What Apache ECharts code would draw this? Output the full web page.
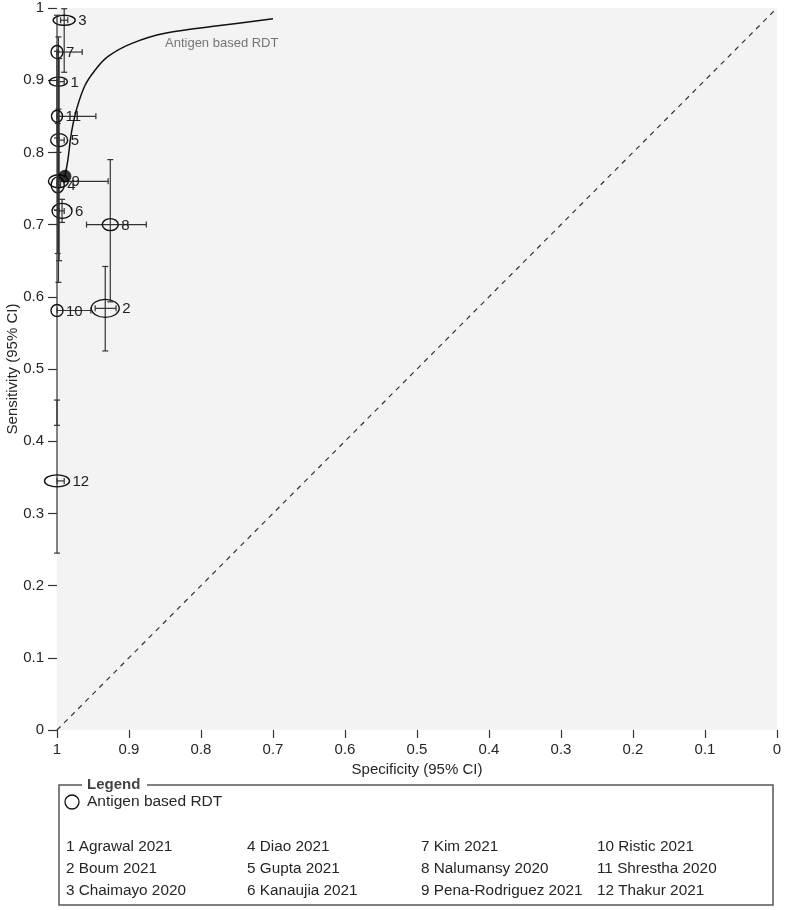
<!DOCTYPE html>
<html>
<head>
<meta charset="utf-8">
<script src="https://cdn.jsdelivr.net/npm/echarts@6/dist/echarts.min.js"></script>
<style>html,body{margin:0;padding:0;background:#fff}#c{width:785px;height:910px}</style>
</head>
<body>
<div id="c"></div>
<script>
// ---- data ----
var studyIds   = [1, 2, 3, 4, 5, 6, 7, 8, 9, 10, 11, 12];
var studyNames = ['Agrawal 2021','Boum 2021','Chaimayo 2020','Diao 2021','Gupta 2021','Kanaujia 2021',
                  'Kim 2021','Nalumansy 2020','Pena-Rodriguez 2021','Ristic 2021','Shrestha 2020','Thakur 2021'];
var sens   = [0.898, 0.584, 0.983, 0.755, 0.817, 0.719, 0.939, 0.700, 0.760, 0.581, 0.850, 0.345];
var sensLo = [0.800, 0.525, 0.911, 0.660, 0.650, 0.703, 0.820, 0.593, 0.620, 0.422, 0.720, 0.245];
var sensHi = [0.960, 0.642, 0.999, 0.840, 0.930, 0.735, 0.990, 0.790, 0.860, 0.720, 0.940, 0.457];
var spec   = [0.998, 0.933, 0.990, 0.999, 0.997, 0.993, 1.000, 0.926, 0.998, 1.000, 1.000, 1.000];
var specLo = [0.990, 0.918, 0.985, 0.995, 0.990, 0.990, 0.965, 0.876, 0.929, 0.953, 0.946, 0.990];
var specHi = [1.000, 0.947, 0.995, 1.000, 1.000, 0.997, 1.000, 0.959, 1.000, 1.000, 1.000, 1.000];
// relative study weights (drive ellipse width / height)
var weightSpec = [18, 28, 22, 13, 17, 20, 12, 16, 20, 12, 11, 25];
var weightSens = [9, 18, 10, 16, 13, 15, 13, 12, 13, 12, 12, 12];
// summary point
var summarySpec = 0.989, summarySens = 0.767;
// SROC curve
var curveSpec = [0.989, 0.985, 0.980, 0.973, 0.961, 0.947, 0.929, 0.896, 0.850, 0.771, 0.700];
var curveSens = [0.767, 0.789, 0.827, 0.859, 0.893, 0.914, 0.933, 0.951, 0.965, 0.976, 0.985];
var curveName = 'Antigen based RDT';
var axisTicks = [0, 0.1, 0.2, 0.3, 0.4, 0.5, 0.6, 0.7, 0.8, 0.9, 1];

// ---- chart ----
var chart = echarts.init(document.getElementById('c'), null, {renderer: 'canvas'});
var FONT = 'Liberation Sans, Arial, sans-serif';
var TXT = '#262626';

var studyData = studyIds.map(function (id, i) { return [spec[i], sens[i], i]; });
var curveData = curveSpec.map(function (s, i) { return [s, curveSens[i]]; });

function renderStudy(params, api) {
  var i = api.value(2);
  var c = api.coord([spec[i], sens[i]]);
  var xl = api.coord([specLo[i], sens[i]]);
  var xh = api.coord([specHi[i], sens[i]]);
  var yl = api.coord([spec[i], sensLo[i]]);
  var yh = api.coord([spec[i], sensHi[i]]);
  var cap = 3;
  var ls = {stroke: '#333', lineWidth: 1.2};
  var rx = weightSpec[i] / 2, ry = weightSens[i] / 2;
  return {
    type: 'group',
    children: [
      {type: 'line', shape: {x1: xl[0], y1: c[1], x2: xh[0], y2: c[1]}, style: ls},
      {type: 'line', shape: {x1: xl[0], y1: c[1] - cap, x2: xl[0], y2: c[1] + cap}, style: ls},
      {type: 'line', shape: {x1: xh[0], y1: c[1] - cap, x2: xh[0], y2: c[1] + cap}, style: ls},
      {type: 'line', shape: {x1: c[0], y1: yl[1], x2: c[0], y2: yh[1]}, style: ls},
      {type: 'line', shape: {x1: c[0] - cap, y1: yl[1], x2: c[0] + cap, y2: yl[1]}, style: ls},
      {type: 'line', shape: {x1: c[0] - cap, y1: yh[1], x2: c[0] + cap, y2: yh[1]}, style: ls},
      {type: 'ellipse', shape: {cx: c[0], cy: c[1], rx: rx, ry: ry},
        style: {fill: 'rgba(0,0,0,0)', stroke: '#111', lineWidth: 1.4}},
      {type: 'text', x: c[0] + rx + 3, y: c[1] + 1,
        style: {text: String(studyIds[i]), fill: '#222', font: '15px ' + FONT,
          textAlign: 'left', textVerticalAlign: 'middle'}}
    ]
  };
}

// legend graphics
var g = [];
g.push({type: 'polyline', shape: {points: [[82, 785], [59, 785], [59, 905], [773, 905], [773, 785], [147, 785]]},
  style: {stroke: '#555', lineWidth: 1.5, fill: null}});
g.push({type: 'text', x: 87, y: 785, style: {text: 'Legend', font: 'bold 15px ' + FONT, fill: '#444',
  textVerticalAlign: 'middle'}});
g.push({type: 'circle', shape: {cx: 72, cy: 802, r: 7}, style: {fill: '#fff', stroke: '#111', lineWidth: 1.3}});
g.push({type: 'text', x: 87, y: 802, style: {text: curveName, font: '15.5px ' + FONT, fill: TXT,
  textVerticalAlign: 'middle'}});
var colX = [66, 247, 421, 597], rowY = [847, 869, 891];
studyIds.forEach(function (id, i) {
  var col = Math.floor(i / 3), row = i % 3;
  g.push({type: 'text', x: colX[col], y: rowY[row], style: {text: id + ' ' + studyNames[i],
    font: '15.3px ' + FONT, fill: TXT, textVerticalAlign: 'middle'}});
});

function tickFmt(v) {
  var k = axisTicks.indexOf(Math.round(v * 10) / 10);
  return k >= 0 ? String(axisTicks[k]) : '';
}

var option = {
  animation: false,
  backgroundColor: '#fff',
  grid: {left: 57, right: 8, top: 8, bottom: 180, show: true, backgroundColor: '#f3f3f3', borderWidth: 0,
    containLabel: false, outerBoundsMode: 'none'},
  xAxis: {
    type: 'value', min: 0, max: 1, interval: 0.1, inverse: true, position: 'bottom',
    name: 'Specificity (95% CI)', nameLocation: 'middle', nameGap: 32, nameMoveOverlap: false,
    nameTextStyle: {fontSize: 15, color: TXT, fontFamily: FONT},
    axisLine: {show: false, onZero: false},
    axisTick: {show: true, inside: false, length: 8, lineStyle: {color: '#333', width: 1.2}},
    axisLabel: {margin: 12, fontSize: 15, color: TXT, fontFamily: FONT, formatter: tickFmt},
    splitLine: {show: false}
  },
  yAxis: {
    type: 'value', min: 0, max: 1, interval: 0.1, position: 'left',
    name: 'Sensitivity (95% CI)', nameLocation: 'middle', nameGap: 37, nameMoveOverlap: false,
    nameTextStyle: {fontSize: 15, color: TXT, fontFamily: FONT},
    axisLine: {show: false, onZero: false},
    axisTick: {show: true, inside: false, length: 9, lineStyle: {color: '#333', width: 1.2}},
    axisLabel: {margin: 13, fontSize: 15, color: TXT, fontFamily: FONT, formatter: tickFmt},
    splitLine: {show: false}
  },
  series: [
    {
      type: 'line', data: [[1, 0], [0, 1]], symbol: 'none', silent: true,
      lineStyle: {color: '#333', width: 1.2, type: [5, 5]}, z: 1
    },
    {
      type: 'custom', renderItem: renderStudy, data: studyData, z: 3,
      encode: {x: 0, y: 1}, clip: false
    },
    {
      type: 'line', data: curveData, smooth: 0.4, symbol: 'none', z: 4,
      lineStyle: {color: '#111', width: 1.5}
    },
    {
      type: 'scatter', data: [[summarySpec, summarySens]], symbol: 'circle', symbolSize: 13, z: 5,
      itemStyle: {color: '#000'}
    },
    {
      type: 'scatter', data: [[0.85, 0.951]], symbolSize: 0, z: 5, silent: true,
      label: {show: true, position: 'right', distance: 0, formatter: curveName,
        fontSize: 13, color: '#555', fontFamily: FONT}
    }
  ],
  graphic: g
};
chart.setOption(option);
</script>
</body>
</html>
